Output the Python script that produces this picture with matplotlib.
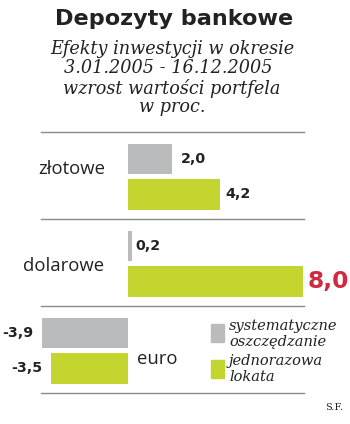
import matplotlib
matplotlib.use("Agg")
import matplotlib.pyplot as plt
from matplotlib.patches import Rectangle

categories = ["złotowe", "dolarowe", "euro"]
systematyczne = [2.0, 0.2, -3.9]
jednorazowa = [4.2, 8.0, -3.5]
labels_sys = ["2,0", "0,2", "-3,9"]
labels_jed = ["4,2", "8,0", "-3,5"]

title = "Depozyty bankowe"
subtitle = ["Efekty inwestycji w okresie", "3.01.2005 - 16.12.2005",
            "wzrost wartości portfela", "w proc."]
legend_labels = [["systematyczne", "oszczędzanie"], ["jednorazowa", "lokata"]]
source = "S.F."

GRAY = "#b9bbbd"
GREEN = "#c4d530"
RED = "#cf2a42"
TXT = "#222222"

W, H = 350, 424
fig = plt.figure(figsize=(W / 100, H / 100), dpi=100)
ax = fig.add_axes([0, 0, 1, 1])
# pixel mapping: zero at x=127.7 px, 21.9 px per unit; groups 87 px apart
x0, sx = 127.7, 21.9
ax.set_xlim(-x0 / sx, (W - x0) / sx)
yc, sy = 176.75, 87.0
ax.set_ylim((H - yc) / sy, -yc / sy)
ax.axis("off")

def px(x):
    return (x - x0) / sx

def py(y):
    return (y - yc) / sy

off = 0.204
bh = 0.35
n = len(categories)
for i in range(n):
    ax.barh(i - off, systematyczne[i], height=bh, color=GRAY, left=0)
    ax.barh(i + off, jednorazowa[i], height=bh, color=GREEN, left=0)

# separators
for i in range(n + 1):
    ax.plot([px(41), px(304)], [i - 0.51, i - 0.51], color="#8a8a8a", lw=1.0)

sans_light = dict(family="Open Sans", color=TXT)
sans_bold = dict(family="DejaVu Sans", weight="bold", color=TXT)

# category labels
ax.text(px(105), py(169), categories[0], ha="right", va="center", fontsize=13.3, **sans_light)
ax.text(px(104), py(266), categories[1], ha="right", va="center", fontsize=13.3, **sans_light)
ax.text(px(137), py(359), categories[2], ha="left", va="center", fontsize=13.3, **sans_light)

# value labels
lab_off_s = [9, 3, -9]
lab_off_j = [6, 5, -9]
VFS = 10.3
for i in range(n):
    v = systematyczne[i]
    xe = x0 + v * sx
    ax.text(px(xe + lab_off_s[i]), i - off, labels_sys[i],
            ha="left" if v >= 0 else "right", va="center", fontsize=VFS, **sans_bold)
    v = jednorazowa[i]
    xe = x0 + v * sx
    if i == 1:
        ax.text(px(xe + lab_off_j[i]), i + off, labels_jed[i], ha="left", va="center",
                fontsize=16.8, family="DejaVu Sans", weight="bold", color=RED)
    else:
        ax.text(px(xe + lab_off_j[i]), i + off, labels_jed[i],
                ha="left" if v >= 0 else "right", va="center", fontsize=VFS, **sans_bold)

# title and subtitle
ax.text(px(174), py(19), title, ha="center", va="center", fontsize=16.1,
        family="DejaVu Sans", weight="bold", color=TXT)
sub_y = [49, 68, 88, 107]
sub_x = [172, 168, 172, 172]
for s, yy, xx in zip(subtitle, sub_y, sub_x):
    ax.text(px(xx), py(yy), s, ha="center", va="center", fontsize=12.7,
            family="DejaVu Serif", style="italic", color=TXT)

# legend
ax.add_patch(Rectangle((px(211), py(342)), 13 / sx, -18 / sy, color=GRAY, transform=ax.transData))
ax.add_patch(Rectangle((px(211), py(378)), 13 / sx, -18 / sy, color=GREEN, transform=ax.transData))
leg_y = [[326, 342], [361, 377]]
for lab, ys in zip(legend_labels, leg_y):
    for s, yy in zip(lab, ys):
        ax.text(px(229), py(yy), s, ha="left", va="center", fontsize=10.5,
                family="DejaVu Serif", style="italic", color=TXT)

ax.text(px(343), py(408), source, ha="right", va="center", fontsize=7,
        family="DejaVu Serif", color=TXT)

fig.savefig("out.png", dpi=100)
